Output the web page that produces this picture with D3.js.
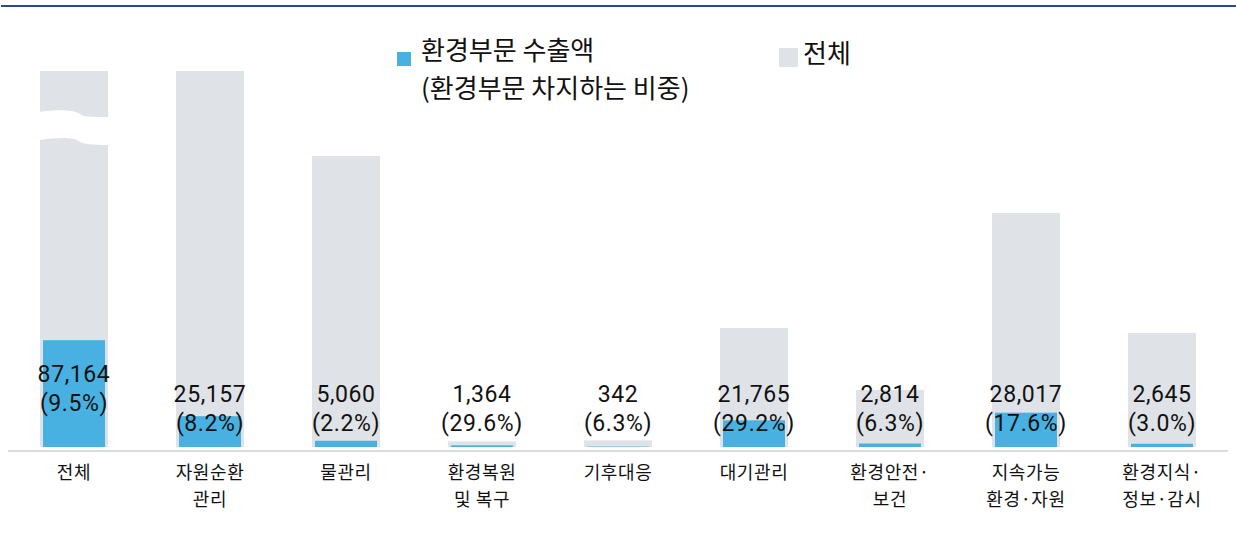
<!DOCTYPE html>
<html><head><meta charset="utf-8">
<script src="https://cdn.jsdelivr.net/npm/d3@7"></script>
<style>
html,body{margin:0;padding:0;background:#fff;}
svg{display:block;}
text{font-family:"Noto Sans CJK KR","Noto Sans",sans-serif;fill:#111;}
.num text{font-family:Roboto,"Noto Sans",sans-serif;letter-spacing:0.6px;}
.cat text{letter-spacing:0.6px;}
</style></head>
<body><svg id="chart" width="1236" height="543"></svg>
<script>
const categories = [["전체"],["자원순환","관리"],["물관리"],["환경복원","및 복구"],["기후대응"],["대기관리"],["환경안전·","보건"],["지속가능","환경·자원"],["환경지식·","정보·감시"]];
const exportValues = [87164, 25157, 5060, 1364, 342, 21765, 2814, 28017, 2645];
const shareLabels = ["9.5%","8.2%","2.2%","29.6%","6.3%","29.2%","6.3%","17.6%","3.0%"];
const totalValues = [917500, 306800, 237400, 4600, 5400, 97100, 46500, 190900, 93000];
const legendLabels = [["환경부문 수출액","(환경부문 차지하는 비중)"],["전체"]];

const svg = d3.select("#chart");
const W = 1236;
const blue = "#48b1e1", gray = "#dfe3e7";

// top rule
svg.append("rect").attr("x",1).attr("y",5).attr("width",W-1).attr("height",2).attr("fill","#2e45a0");

const x = d3.scaleBand().domain(d3.range(categories.length)).range([6,1230]).paddingInner(0.5).paddingOuter(0.25);
const y = d3.scaleLinear().domain([0, 306800]).range([447, 71]);
const yTop = 71;
const bw = 68;
const cx = i => x(i) + x.bandwidth()/2;

// baseline
svg.append("line").attr("x1",8).attr("x2",1228).attr("y1",451).attr("y2",451).attr("stroke","#cfcfcf").attr("stroke-width",1.5);

const g = svg.append("g");
g.selectAll("rect.total").data(totalValues).join("rect").attr("class","total")
  .attr("x",(d,i)=>cx(i)-bw/2).attr("width",bw)
  .attr("y",d=>Math.max(yTop,y(d))).attr("height",d=>447-Math.max(yTop,y(d)))
  .attr("fill",gray);

g.selectAll("rect.exp").data(exportValues).join("rect").attr("class","exp")
  .attr("x",(d,i)=>cx(i)-bw/2+3).attr("width",bw-6)
  .attr("y",d=>y(d)).attr("height",d=>447-y(d))
  .attr("fill",blue);

// break mark on first bar (value exceeds axis)
{
  const x0 = cx(0)-bw/2-2, x1 = cx(0)+bw/2+2, m = cx(0)+6;
  const t = yTop+40;
  const p = d3.path();
  p.moveTo(x0, t+1);
  p.bezierCurveTo(x0+20, t-2, m-4, t-1, m, t+3);
  p.bezierCurveTo(m+4, t+6, m+10, t+6, x1, t+6);
  p.lineTo(x1, t+34);
  p.bezierCurveTo(m+10, t+34, m+4, t+33, m, t+31);
  p.bezierCurveTo(m-4, t+26, x0+20, t+26, x0, t+29);
  p.closePath();
  svg.append("path").attr("d",p.toString()).attr("fill","#fff");
}

// value labels
const lab = svg.append("g").attr("class","num").attr("text-anchor","middle").attr("font-size",23);
exportValues.forEach((v,i)=>{
  const base = i===0 ? 382 : 402;
  lab.append("text").attr("x",cx(i)).attr("y",base).text(d3.format(",")(v));
  lab.append("text").attr("x",cx(i)).attr("y",base+29).text("("+shareLabels[i]+")");
});

// category labels
const cl = svg.append("g").attr("class","cat").attr("text-anchor","middle").attr("font-size",18);
categories.forEach((lines,i)=>{
  lines.forEach((s,j)=>{
    cl.append("text").attr("x",cx(i)).attr("y",479+j*26.5).text(s);
  });
});

// legend
svg.append("rect").attr("x",397).attr("y",52).attr("width",14).attr("height",14).attr("fill",blue);
legendLabels[0].forEach((s,j)=>{
  svg.append("text").attr("x",421).attr("y",60+j*38).attr("font-size",26).text(s);
});
svg.append("rect").attr("x",779).attr("y",48).attr("width",19).attr("height",19).attr("fill",gray);
svg.append("text").attr("x",803).attr("y",63).attr("font-size",26).text(legendLabels[1][0]);
</script></body></html>
